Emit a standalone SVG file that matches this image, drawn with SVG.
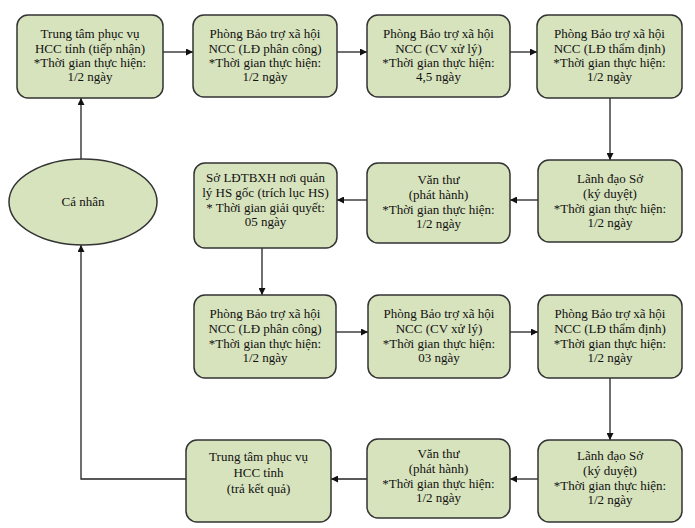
<svg xmlns="http://www.w3.org/2000/svg" width="695" height="528" viewBox="0 0 695 528">
<defs>
<marker id="arr" viewBox="0 0 10 10" refX="10" refY="5" markerWidth="7" markerHeight="7" markerUnits="userSpaceOnUse" orient="auto">
<path d="M0,0 L10,5 L0,10 z" fill="#111"/>
</marker>
</defs>
<style>
.box{fill:#d7e3bd;stroke:#333;stroke-width:1.5}
.t{font-family:"Liberation Serif","Times New Roman",serif;font-size:13px;fill:#111;text-anchor:middle}
.c{fill:none;stroke:#222;stroke-width:1.3;marker-end:url(#arr)}
</style>
<rect width="695" height="528" fill="#fff"/>
<g id="connectors">
<path class="c" d="M163,52 H193"/>
<path class="c" d="M337,52 H367"/>
<path class="c" d="M510,52 H537"/>
<path class="c" d="M610,98 V160"/>
<path class="c" d="M538,200 H510"/>
<path class="c" d="M367,200 H337"/>
<path class="c" d="M262,248 V295"/>
<path class="c" d="M336,332 H368"/>
<path class="c" d="M510,332 H538"/>
<path class="c" d="M610,378 V440"/>
<path class="c" d="M538,479 H510"/>
<path class="c" d="M367,479 H331"/>
<path class="c" d="M186,479 H81 V245"/>
<path class="c" d="M81,159 V98"/>
</g>
<g id="n1">
<rect class="box" x="17" y="15" width="146" height="83" rx="11"/>
<text class="t" x="90" y="38">Trung tâm phục vụ</text>
<text class="t" x="90" y="53">HCC tỉnh (tiếp nhận)</text>
<text class="t" x="90" y="67">*Thời gian thực hiện:</text>
<text class="t" x="90" y="81">1/2 ngày</text>
</g>
<g id="n2">
<rect class="box" x="193" y="15" width="144" height="82" rx="11"/>
<text class="t" x="265" y="38">Phòng Bảo trợ xã hội</text>
<text class="t" x="265" y="53">NCC (LĐ phân công)</text>
<text class="t" x="265" y="67">*Thời gian thực hiện:</text>
<text class="t" x="265" y="81">1/2 ngày</text>
</g>
<g id="n3">
<rect class="box" x="367" y="15" width="143" height="82" rx="11"/>
<text class="t" x="438.5" y="38">Phòng Bảo trợ xã hội</text>
<text class="t" x="438.5" y="53">NCC (CV xử lý)</text>
<text class="t" x="438.5" y="67">*Thời gian thực hiện:</text>
<text class="t" x="438.5" y="81">4,5 ngày</text>
</g>
<g id="n4">
<rect class="box" x="537" y="15" width="145" height="83" rx="11"/>
<text class="t" x="609.5" y="38">Phòng Bảo trợ xã hội</text>
<text class="t" x="609.5" y="53">NCC (LĐ thẩm định)</text>
<text class="t" x="609.5" y="67">*Thời gian thực hiện:</text>
<text class="t" x="609.5" y="81">1/2 ngày</text>
</g>
<g id="n5">
<rect class="box" x="538" y="160" width="144" height="82" rx="11"/>
<text class="t" x="610" y="183">Lãnh đạo Sở</text>
<text class="t" x="610" y="198">(ký duyệt)</text>
<text class="t" x="610" y="213">*Thời gian thực hiện:</text>
<text class="t" x="610" y="227">1/2 ngày</text>
</g>
<g id="n6">
<rect class="box" x="367" y="163" width="143" height="80" rx="11"/>
<text class="t" x="438.5" y="184">Văn thư</text>
<text class="t" x="438.5" y="199">(phát hành)</text>
<text class="t" x="438.5" y="214">*Thời gian thực hiện:</text>
<text class="t" x="438.5" y="228">1/2 ngày</text>
</g>
<g id="n7">
<rect class="box" x="194" y="163" width="143" height="85" rx="11"/>
<text class="t" x="265.5" y="182">Sở LĐTBXH nơi quản</text>
<text class="t" x="265.5" y="197">lý HS gốc (trích lục HS)</text>
<text class="t" x="265.5" y="212">* Thời gian giải quyết:</text>
<text class="t" x="265.5" y="226">05 ngày</text>
</g>
<g id="n0">
<ellipse cx="83" cy="202" rx="74" ry="43" class="box"/>
<text class="t" x="83" y="206">Cá nhân</text>
</g>
<g id="n8">
<rect class="box" x="194" y="295" width="142" height="83" rx="11"/>
<text class="t" x="265" y="318">Phòng Bảo trợ xã hội</text>
<text class="t" x="265" y="333">NCC (LĐ phân công)</text>
<text class="t" x="265" y="348">*Thời gian thực hiện:</text>
<text class="t" x="265" y="362">1/2 ngày</text>
</g>
<g id="n9">
<rect class="box" x="368" y="295" width="142" height="83" rx="11"/>
<text class="t" x="439" y="318">Phòng Bảo trợ xã hội</text>
<text class="t" x="439" y="333">NCC (CV xử lý)</text>
<text class="t" x="439" y="348">*Thời gian thực hiện:</text>
<text class="t" x="439" y="362">03 ngày</text>
</g>
<g id="n10">
<rect class="box" x="538" y="295" width="144" height="83" rx="11"/>
<text class="t" x="610" y="318">Phòng Bảo trợ xã hội</text>
<text class="t" x="610" y="333">NCC (LĐ thẩm định)</text>
<text class="t" x="610" y="348">*Thời gian thực hiện:</text>
<text class="t" x="610" y="362">1/2 ngày</text>
</g>
<g id="n11">
<rect class="box" x="538" y="440" width="144" height="82" rx="11"/>
<text class="t" x="610" y="460">Lãnh đạo Sở</text>
<text class="t" x="610" y="475">(ký duyệt)</text>
<text class="t" x="610" y="490">*Thời gian thực hiện:</text>
<text class="t" x="610" y="504">1/2 ngày</text>
</g>
<g id="n12">
<rect class="box" x="367" y="439" width="143" height="79" rx="11"/>
<text class="t" x="438.5" y="458">Văn thư</text>
<text class="t" x="438.5" y="473">(phát hành)</text>
<text class="t" x="438.5" y="488">*Thời gian thực hiện:</text>
<text class="t" x="438.5" y="502">1/2 ngày</text>
</g>
<g id="n13">
<rect class="box" x="186" y="440" width="145" height="82" rx="11"/>
<text class="t" x="258.5" y="461">Trung tâm phục vụ</text>
<text class="t" x="258.5" y="477">HCC tỉnh</text>
<text class="t" x="258.5" y="493">(trả kết quả)</text>
</g>
</svg>
